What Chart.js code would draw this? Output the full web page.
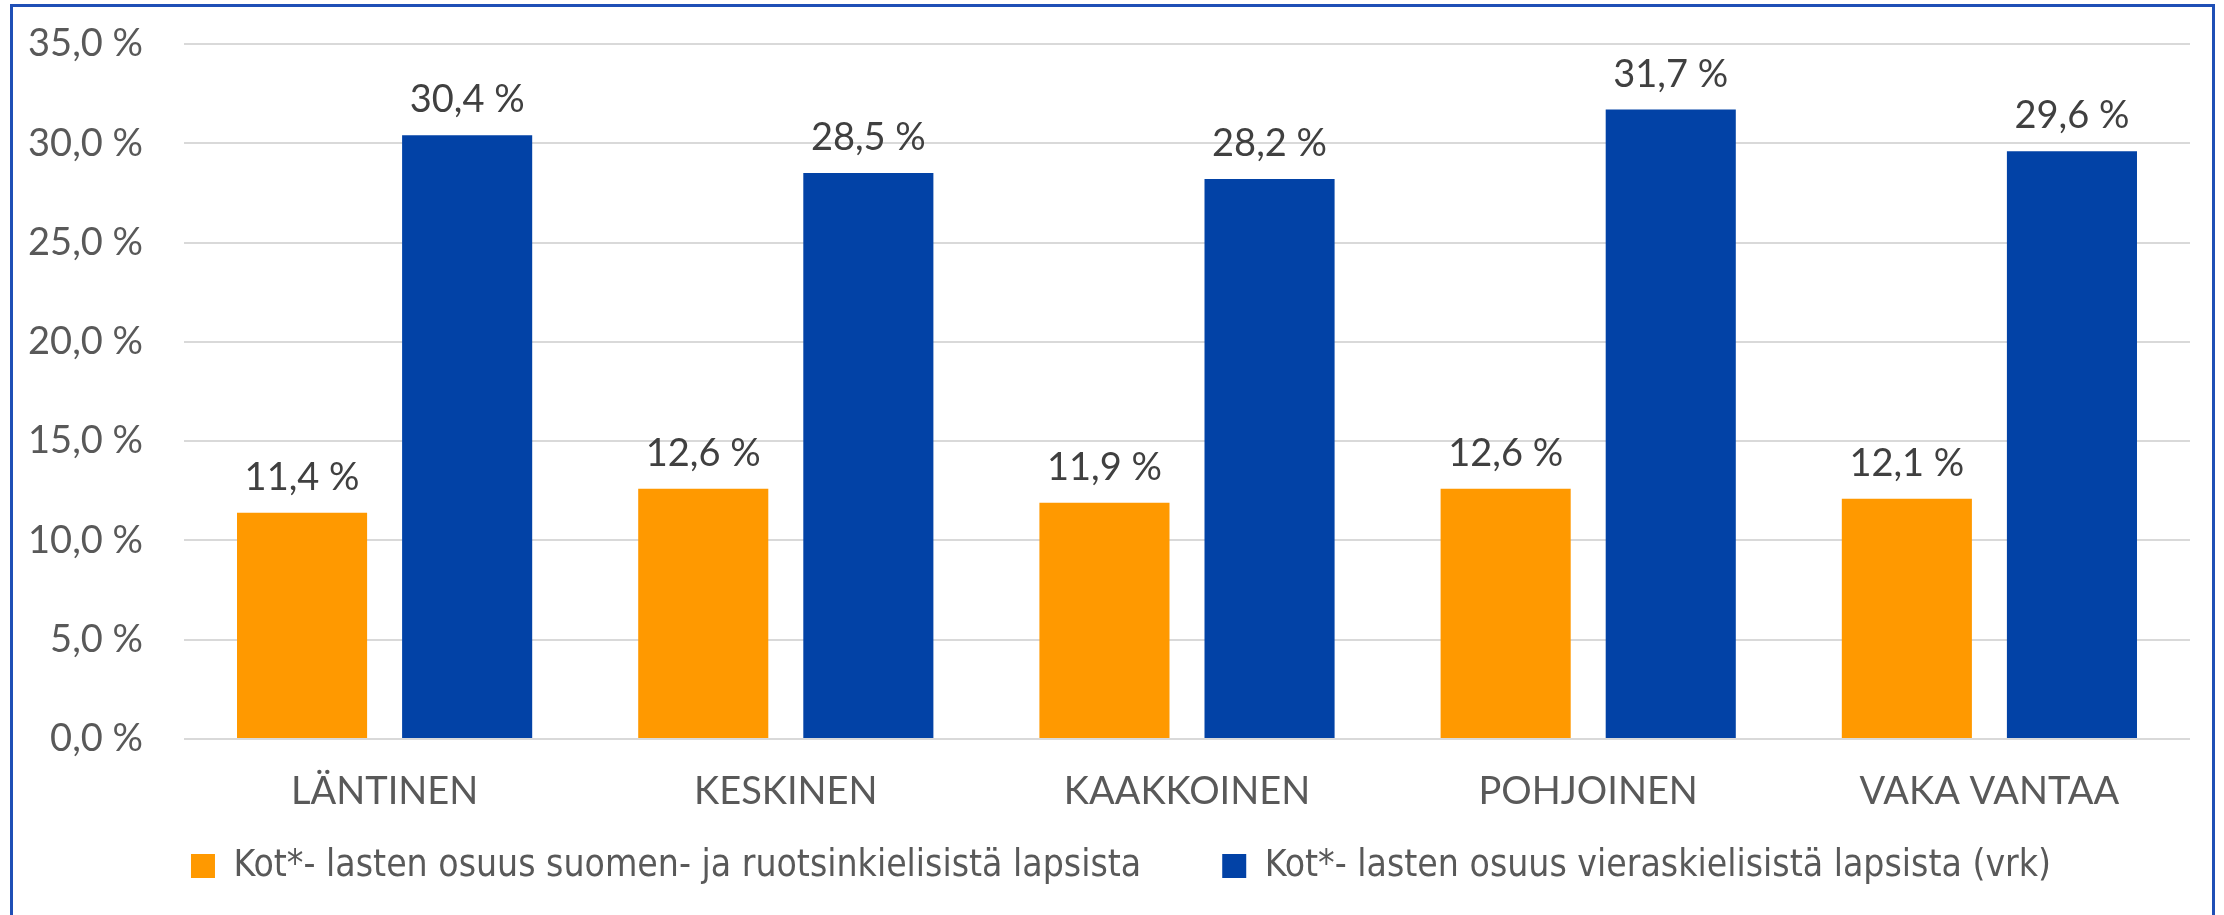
<!DOCTYPE html>
<html>
<head>
<meta charset="utf-8">
<script src="https://cdn.jsdelivr.net/npm/chart.js@4/dist/chart.umd.min.js"></script>
<style>
  html, body { margin: 0; padding: 0; background: #fff; }
  #wrap { position: relative; width: 2224px; height: 915px; overflow: hidden; background: #fff; }
  #frame { position: absolute; left: 10px; top: 4px; width: 2205px; height: 1000px; border: 3px solid #1f4fb6; box-sizing: border-box; }
  canvas { position: absolute; left: 0; top: 0; }
</style>
</head>
<body>
<div id="wrap">
  <div id="frame"></div>
  <canvas id="chart" width="2224" height="915"></canvas>
</div>
<script>
// alueet ja osuudet (%)
var categories = ["LÄNTINEN", "KESKINEN", "KAAKKOINEN", "POHJOINEN", "VAKA VANTAA"];
var seriesNames = [
  "Kot*- lasten osuus suomen- ja ruotsinkielisistä lapsista",
  "Kot*- lasten osuus vieraskielisistä lapsista (vrk)"
];
var kotimaiset = [11.4, 12.6, 11.9, 12.6, 12.1];
var vieraskieliset = [30.4, 28.5, 28.2, 31.7, 29.6];
var yTicks = [0, 5, 10, 15, 20, 25, 30, 35];

var labelFont = "38px Lato, 'Open Sans', sans-serif";

function fmtPct(v) {
  return v.toFixed(1).replace(".", ",") + " %";
}

// arvot pylväiden päälle + alueiden nimet akselin alle
var extraText = {
  id: "extraText",
  afterLayout: function (chart) {
    // selite hieman oikealle kuten alkuperäisessä
    chart.legend.left += 21;
    chart.legend.right += 21;
  },
  afterDatasetsDraw: function (chart) {
    var ctx = chart.ctx;
    ctx.save();
    ctx.font = labelFont;
    ctx.fillStyle = "#404040";
    ctx.textAlign = "center";
    ctx.textBaseline = "alphabetic";
    chart.data.datasets.forEach(function (ds, i) {
      chart.getDatasetMeta(i).data.forEach(function (bar, j) {
        ctx.fillText(fmtPct(ds.data[j]), bar.x, bar.y - 23);
      });
    });
    var xs = chart.scales.x;
    ctx.fillStyle = "#595959";
    ctx.textBaseline = "middle";
    categories.forEach(function (c, i) {
      ctx.fillText(c, xs.getPixelForTick(i), chart.chartArea.bottom + 53);
    });
    ctx.restore();
  }
};

new Chart(document.getElementById("chart"), {
  type: "bar",
  data: {
    labels: categories,
    datasets: [
      {
        label: seriesNames[0],
        data: kotimaiset,
        backgroundColor: "#ff9900",
        categoryPercentage: 0.823,
        barPercentage: 0.788
      },
      {
        label: seriesNames[1],
        data: vieraskieliset,
        backgroundColor: "#0242a6",
        categoryPercentage: 0.823,
        barPercentage: 0.788
      }
    ]
  },
  options: {
    responsive: false,
    animation: false,
    layout: { padding: { left: 10, right: 34, top: 44, bottom: 20.5 } },
    plugins: {
      tooltip: { enabled: false },
      legend: {
        position: "bottom",
        labels: {
          boxWidth: 24,
          boxHeight: 24,
          padding: 81,
          color: "#595959",
          font: { family: "'Liberation Sans Narrow', 'DejaVu Sans Condensed', 'Roboto Condensed', sans-serif", size: 37 }
        }
      }
    },
    scales: {
      x: {
        grid: { display: false },
        border: { display: false },
        ticks: { display: false },
        afterFit: function (s) { s.height = 27.5; }
      },
      y: {
        min: 0,
        max: 35,
        afterBuildTicks: function (s) {
          s.ticks = yTicks.map(function (v) { return { value: v }; });
        },
        afterFit: function (s) {
          s.width = 174;
          s.paddingTop = 0;
          s.paddingBottom = 0;
        },
        grid: { color: "#d9d9d9", lineWidth: 2, drawTicks: false },
        border: { display: false },
        ticks: {
          color: "#595959",
          padding: 41,
          font: { family: "Lato, 'Open Sans', sans-serif", size: 38 },
          callback: function (v) { return fmtPct(v); }
        }
      }
    }
  },
  plugins: [extraText]
});
</script>
</body>
</html>
